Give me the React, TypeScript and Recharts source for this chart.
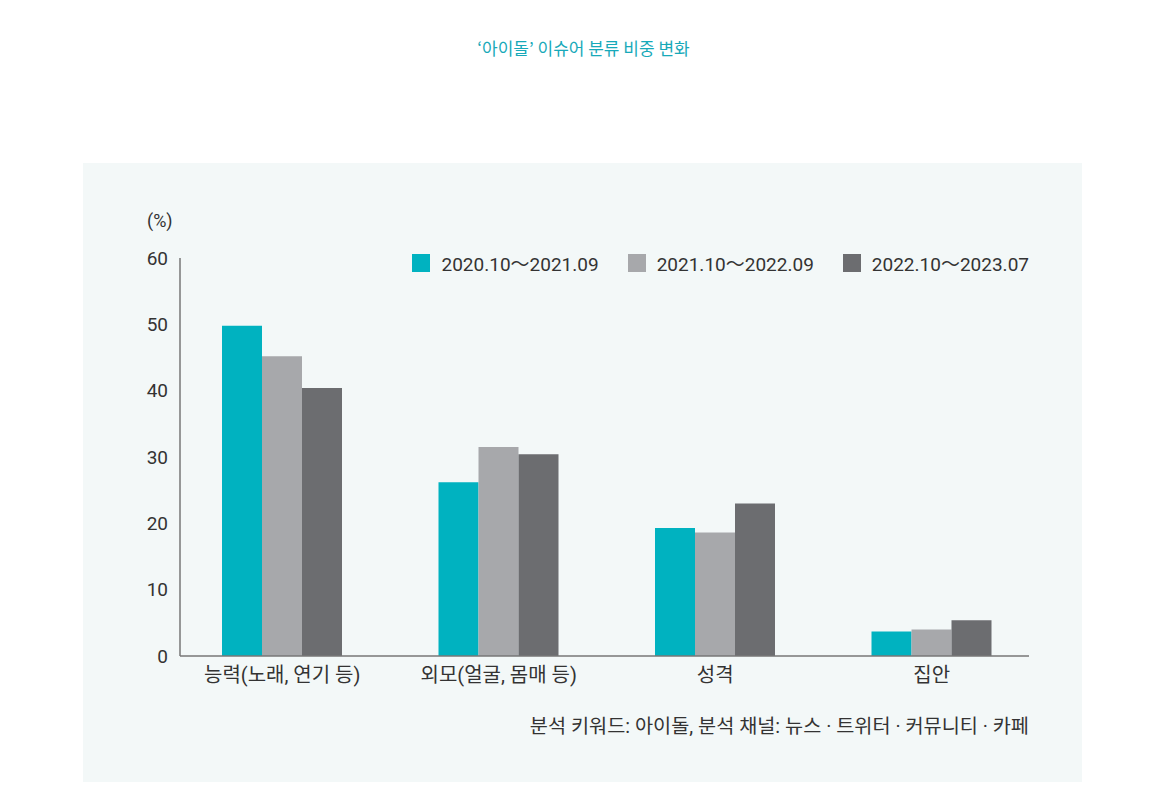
import { BarChart, Bar, XAxis, YAxis, Legend } from 'recharts';

const categories = ['능력(노래, 연기 등)', '외모(얼굴, 몸매 등)', '성격', '집안'];
const period1 = [49.8, 26.2, 19.3, 3.7];
const period2 = [45.2, 31.5, 18.6, 4.0];
const period3 = [40.4, 30.4, 23.0, 5.4];
const yTicks = [0, 10, 20, 30, 40, 50, 60];

const seriesNames = ['2020.10～2021.09', '2021.10～2022.09', '2022.10～2023.07'];
const seriesColors = ['#00b2c0', '#a7a8ab', '#6c6d70'];

const data = categories.map((name, i) => ({
  name,
  p1: period1[i],
  p2: period2[i],
  p3: period3[i],
}));

const FONT = "Roboto, 'Noto Sans CJK KR', sans-serif";

const LegendContent = ({ payload }: any) => (
  <div style={{ display: 'flex', justifyContent: 'flex-end', fontFamily: FONT, fontSize: 19, color: '#333' }}>
    {(payload || []).map((item: any, i: number) => (
      <div key={i} style={{ display: 'flex', alignItems: 'center', marginLeft: i === 0 ? 0 : 29 }}>
        <span style={{ width: 18, height: 18, background: item.color, display: 'inline-block', marginRight: 11 }} />
        <span>{item.value}</span>
      </div>
    ))}
  </div>
);

const App = () => {
  return (
    <div style={{ position: 'absolute', left: 0, top: 0, width: 1174, height: 810, background: '#fff', fontFamily: FONT }}>
      <div style={{ position: 'absolute', left: 0, top: 35, width: 1167, textAlign: 'center', fontSize: 17, color: '#17a9b9', fontFamily: "'Noto Sans CJK KR', sans-serif" }}>
        ‘아이돌’ 이슈어 분류 비중 변화
      </div>
      <div style={{ position: 'absolute', left: 83, top: 163, width: 999, height: 619, background: '#f3f8f8' }} />
      <div style={{ position: 'absolute', left: 147, top: 210, fontSize: 18, color: '#333' }}>(%)</div>
      <div style={{ position: 'absolute', left: 0, top: 0 }}>
        <BarChart
          width={1174}
          height={810}
          data={data}
          margin={{ top: 258, right: 145, bottom: 124, left: 120 }}
          barGap={0}
          barSize={40}
        >
          <XAxis
            dataKey="name"
            height={30}
            padding={{ left: -6, right: -11 }}
            tickLine={false}
            axisLine={{ stroke: '#777', strokeWidth: 1.5 }}
            tickMargin={6}
            interval={0}
            tick={{ fill: '#333', fontSize: 20, fontFamily: FONT }}
          />
          <YAxis
            width={60}
            domain={[0, 60]}
            ticks={yTicks}
            tickLine={false}
            axisLine={{ stroke: '#777', strokeWidth: 1.5 }}
            tickMargin={6}
            tick={{ fill: '#333', fontSize: 19, fontFamily: FONT }}
          />
          <Legend
            layout="horizontal"
            verticalAlign="middle"
            align="center"
            wrapperStyle={{ top: 249, left: 400, width: 629 }}
            content={<LegendContent />}
          />
          <Bar dataKey="p1" name={seriesNames[0]} fill={seriesColors[0]} isAnimationActive={false} />
          <Bar dataKey="p2" name={seriesNames[1]} fill={seriesColors[1]} isAnimationActive={false} />
          <Bar dataKey="p3" name={seriesNames[2]} fill={seriesColors[2]} isAnimationActive={false} />
        </BarChart>
      </div>
      <div style={{ position: 'absolute', right: 1174 - 1029, top: 710, fontSize: 19.7, color: '#333', whiteSpace: 'nowrap' }}>
        분석 키워드: 아이돌, 분석 채널: 뉴스 · 트위터 · 커뮤니티 · 카페
      </div>
    </div>
  );
};

export default App;
